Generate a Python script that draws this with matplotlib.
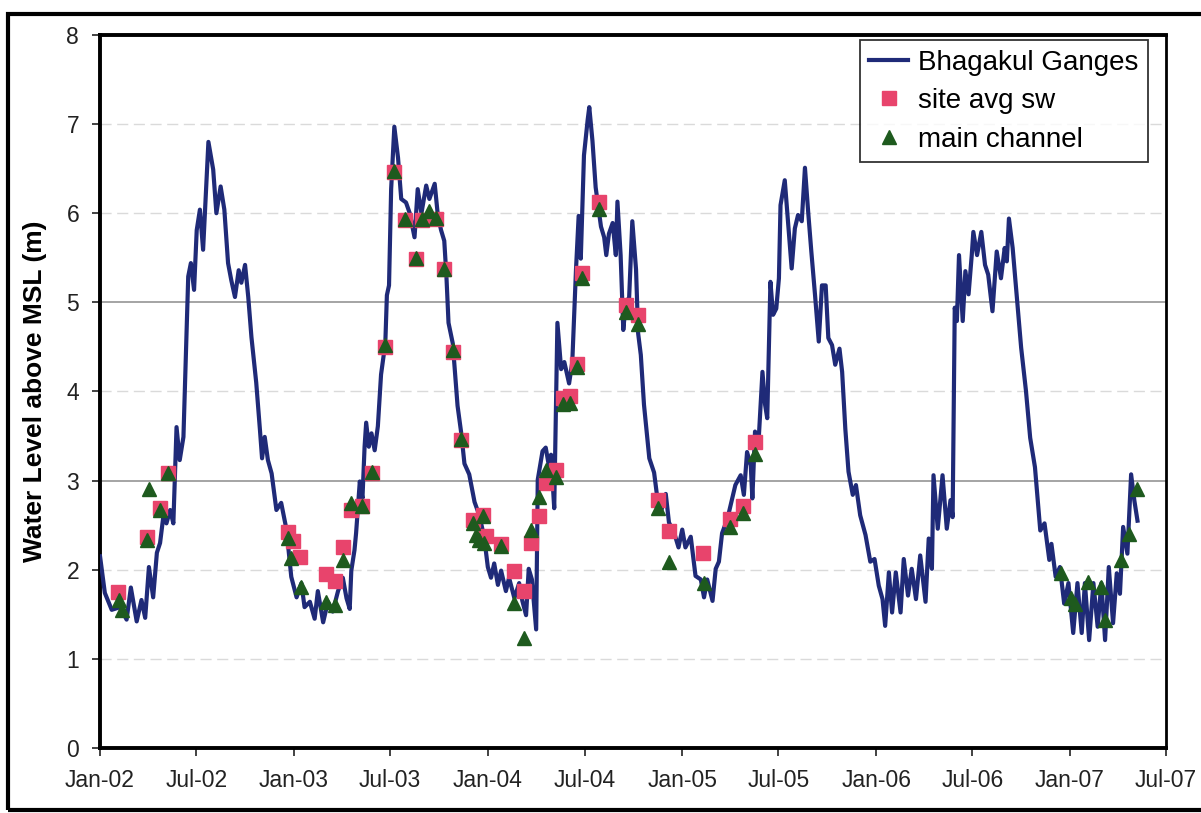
import numpy as np
import pandas as pd
import matplotlib
matplotlib.use("Agg")
import matplotlib.pyplot as plt
import matplotlib.dates as mdates
from matplotlib.patches import Rectangle

plt.rcParams['font.family'] = ['Liberation Sans', 'DejaVu Sans']

START = pd.Timestamp('2002-01-01')

# Bhagakul Ganges water level: day number since 2002-01-01, level (m above MSL)
ganges_day = [
    0, 9, 22, 38, 50, 58, 69, 78, 85, 92, 100, 107, 113, 119, 125, 132, 138, 144,
    150, 157, 166, 171, 177, 182, 188, 194, 204, 213, 219, 227, 234, 241, 247, 254,
    261, 266, 273, 279, 285, 294, 301, 305, 310, 316, 323, 332, 341, 351, 360, 370,
    379, 385, 395, 404, 410, 420, 429, 438, 448, 457, 464, 470, 473, 479, 482, 489,
    494, 498, 501, 506, 511, 517, 523, 529, 537, 540, 544, 548, 554, 561, 567, 576,
    583, 592, 598, 605, 614, 620, 630, 636, 642, 648, 652, 656, 664, 673, 680, 686,
    695, 705, 714, 723, 730, 736, 742, 749, 755, 764, 770, 780, 789, 795, 802, 807,
    813, 821, 824, 833, 839, 846, 849, 855, 861, 868, 874, 883, 889, 896, 901, 905,
    911, 918, 921, 927, 933, 943, 949, 953, 958, 965, 971, 974, 980, 985, 990, 996,
    1002, 1009, 1013, 1018, 1024, 1034, 1043, 1049, 1056, 1065, 1071, 1081, 1089,
    1096, 1102, 1112, 1121, 1131, 1137, 1143, 1153, 1159, 1165, 1171, 1181, 1196,
    1206, 1212, 1218, 1225, 1228, 1233, 1240, 1247, 1252, 1256, 1262, 1267, 1273,
    1278, 1281, 1289, 1295, 1302, 1308, 1314, 1321, 1327, 1333, 1339, 1346, 1353,
    1359, 1366, 1371, 1378, 1384, 1392, 1397, 1403, 1409, 1417, 1423, 1431, 1441,
    1450, 1458, 1466, 1473, 1478, 1485, 1491, 1498, 1507, 1513, 1521, 1528, 1536,
    1544, 1554, 1560, 1566, 1569, 1577, 1586, 1594, 1601, 1605, 1609, 1613, 1617,
    1624, 1629, 1635, 1641, 1644, 1651, 1659, 1666, 1672, 1680, 1688, 1696, 1703,
    1707, 1711, 1718, 1726, 1734, 1743, 1751, 1760, 1770, 1778, 1787, 1791, 1799,
    1807, 1815, 1823, 1832, 1840, 1848, 1854, 1862, 1870, 1878, 1885, 1892, 1899,
    1907, 1914, 1920, 1926, 1934, 1941, 1947, 1953,
]
ganges_level = [
    2.15, 1.74, 1.55, 1.58, 1.44, 1.80, 1.42, 1.66, 1.46, 2.03, 1.69, 2.19, 2.30, 2.59,
    2.52, 2.67, 2.52, 3.60, 3.23, 3.49, 5.29, 5.44, 5.14, 5.81, 6.04, 5.59, 6.80, 6.49,
    6.00, 6.30, 6.04, 5.44, 5.25, 5.06, 5.36, 5.22, 5.42, 5.06, 4.61, 4.10, 3.57, 3.25,
    3.49, 3.23, 3.08, 2.67, 2.75, 2.45, 1.92, 1.69, 1.85, 1.58, 1.64, 1.45, 1.76, 1.41,
    1.64, 1.53, 1.76, 1.91, 1.68, 1.56, 1.99, 2.22, 2.41, 2.99, 2.80, 3.38, 3.65, 3.38,
    3.53, 3.34, 3.61, 4.19, 4.54, 5.08, 5.19, 6.27, 6.97, 6.62, 6.16, 6.12, 6.00, 5.73,
    6.27, 6.00, 6.31, 6.16, 6.33, 5.97, 5.81, 5.69, 5.30, 4.77, 4.54, 3.84, 3.53, 3.19,
    3.07, 2.76, 2.61, 2.37, 2.03, 1.91, 2.07, 1.83, 1.99, 1.76, 1.91, 1.68, 1.85, 1.65,
    1.49, 2.01, 1.89, 1.33, 3.01, 3.33, 3.37, 3.13, 3.29, 2.69, 4.77, 4.25, 4.33, 4.09,
    4.33, 5.37, 5.97, 5.49, 6.65, 7.05, 7.19, 6.81, 6.29, 5.85, 5.73, 5.53, 5.77, 5.89,
    5.53, 6.13, 5.53, 4.69, 5.01, 5.05, 5.91, 5.37, 4.65, 4.41, 3.85, 3.25, 3.09, 2.81,
    2.65, 2.85, 2.53, 2.41, 2.25, 2.45, 2.25, 2.37, 1.93, 1.89, 1.69, 1.89, 1.65, 2.01,
    2.09, 2.41, 2.57, 2.95, 3.06, 2.84, 3.32, 3.17, 2.80, 3.55, 3.47, 4.22, 3.85, 3.70,
    5.23, 4.86, 4.93, 5.27, 6.09, 6.37, 5.91, 5.38, 5.83, 5.98, 5.91, 6.51, 6.02, 5.57,
    5.08, 4.56, 5.19, 5.19, 4.60, 4.52, 4.30, 4.48, 4.22, 3.58, 3.10, 2.84, 2.95, 2.61,
    2.39, 2.09, 2.12, 1.82, 1.67, 1.37, 1.97, 1.52, 1.97, 1.52, 2.12, 1.71, 2.01, 1.67,
    2.16, 1.64, 2.35, 2.01, 3.06, 2.46, 3.06, 2.46, 2.78, 2.59, 4.94, 4.79, 5.53, 4.79,
    5.35, 5.09, 5.53, 5.79, 5.53, 5.79, 5.42, 5.31, 4.90, 5.57, 5.27, 5.61, 5.46, 5.94,
    5.61, 5.05, 4.49, 4.01, 3.48, 3.15, 2.44, 2.52, 2.11, 2.29, 1.92, 2.03, 1.62, 1.85,
    1.29, 1.85, 1.29, 1.85, 1.21, 1.85, 1.36, 1.85, 1.21, 2.03, 1.40, 1.96, 1.73, 2.48,
    2.18, 3.07, 2.78, 2.55,
]

# site avg sw
site_day = [34, 88, 113, 128, 354, 363, 376, 426, 442, 457, 473, 494, 512, 537, 554,
            575, 594, 606, 633, 648, 664, 680, 702, 720, 727, 755, 779, 798, 811, 826,
            839, 859, 871, 884, 897, 908, 940, 990, 1013, 1051, 1071, 1136, 1186, 1211,
            1233]
site_level = [1.75, 2.37, 2.69, 3.09, 2.42, 2.32, 2.14, 1.95, 1.87, 2.26, 2.67, 2.72,
              3.08, 4.50, 6.46, 5.92, 5.49, 5.92, 5.94, 5.37, 4.44, 3.46, 2.56, 2.61,
              2.38, 2.29, 1.99, 1.76, 2.30, 2.60, 2.97, 3.12, 3.93, 3.95, 4.31, 5.33,
              6.13, 4.97, 4.86, 2.78, 2.43, 2.19, 2.57, 2.72, 3.43]

# main channel
main_day = [36, 41, 89, 92, 113, 128, 354, 359, 379, 426, 442, 457, 473, 494, 512, 537,
            554, 575, 594, 606, 620, 633, 648, 664, 680, 702, 708, 714, 720, 723, 755,
            779, 799, 811, 826, 839, 859, 871, 884, 897, 908, 940, 990, 1013, 1051,
            1071, 1137, 1186, 1211, 1233, 1809, 1828, 1835, 1859, 1884, 1892, 1922,
            1937, 1953]
main_level = [1.66, 1.55, 2.33, 2.90, 2.67, 3.08, 2.36, 2.13, 1.81, 1.64, 1.60, 2.11,
              2.75, 2.71, 3.10, 4.52, 6.47, 5.93, 5.50, 5.93, 6.02, 5.95, 5.37, 4.47,
              3.47, 2.52, 2.39, 2.33, 2.60, 2.30, 2.27, 1.63, 1.23, 2.45, 2.82, 3.12,
              3.04, 3.86, 3.87, 4.27, 5.27, 6.05, 4.89, 4.76, 2.69, 2.09, 1.85, 2.48,
              2.64, 3.30, 1.96, 1.68, 1.62, 1.86, 1.81, 1.44, 2.11, 2.40, 2.90]


def to_dates(days):
    return START + pd.to_timedelta(np.array(days), unit='D')


fig = plt.figure(figsize=(12.01, 8.13), dpi=100)
ax = fig.add_axes([0.0833, 0.080, 0.8877, 0.877])

ax.plot(to_dates(ganges_day), ganges_level, color='#1f2a78', lw=3.0,
        label='Bhagakul Ganges', zorder=3, solid_joinstyle='round')
ax.plot(to_dates(site_day), site_level, ls='none', marker='s', ms=10.5,
        color='#e8446c', mec='#e8446c', label='site avg sw', zorder=4)
ax.plot(to_dates(main_day), main_level, ls='none', marker='^', ms=10.5,
        color='#1e5a1e', mec='#1e5a1e', label='main channel', zorder=5)

ax.set_xlim(pd.Timestamp('2002-01-01'), pd.Timestamp('2007-07-01'))
ax.set_ylim(0, 8)
ax.set_yticks(range(0, 9))
ax.xaxis.set_major_locator(mdates.MonthLocator(bymonth=[1, 7]))
ax.xaxis.set_major_formatter(mdates.DateFormatter('%b-%y'))
ax.tick_params(axis='both', labelsize=16.5, colors='#222222', length=6, width=1.2)
ax.tick_params(axis='x', pad=9)
ax.tick_params(axis='y', pad=9)

ax.grid(axis='y', zorder=0)
for val, gl in zip(ax.get_yticks(), ax.get_ygridlines()):
    if val in (3, 5):
        gl.set(color='#8c8c8c', lw=1.1, ls='-')
    else:
        gl.set(color='#dadada', lw=1.0, ls=(0, (8, 4)))

for side in ['left', 'bottom', 'top']:
    ax.spines[side].set_linewidth(2.8)
ax.spines['right'].set_linewidth(2.0)

ax.set_ylabel('Water Level above MSL (m)', fontsize=19, fontweight='bold', labelpad=14)

leg = ax.legend(loc='upper right', bbox_to_anchor=(0.983, 0.993), fontsize=20,
                frameon=True, fancybox=False, borderaxespad=0, handlelength=1.4,
                handletextpad=0.35, labelspacing=0.45, borderpad=0.35)
leg.get_frame().set_edgecolor('black')
leg.get_frame().set_linewidth(1.3)

fig.patches.append(Rectangle((8 / 1201, 3 / 813), 1.1, 796 / 813, transform=fig.transFigure,
                             fill=False, lw=3, edgecolor='black', clip_on=False))

fig.savefig('out.png', dpi=100)
